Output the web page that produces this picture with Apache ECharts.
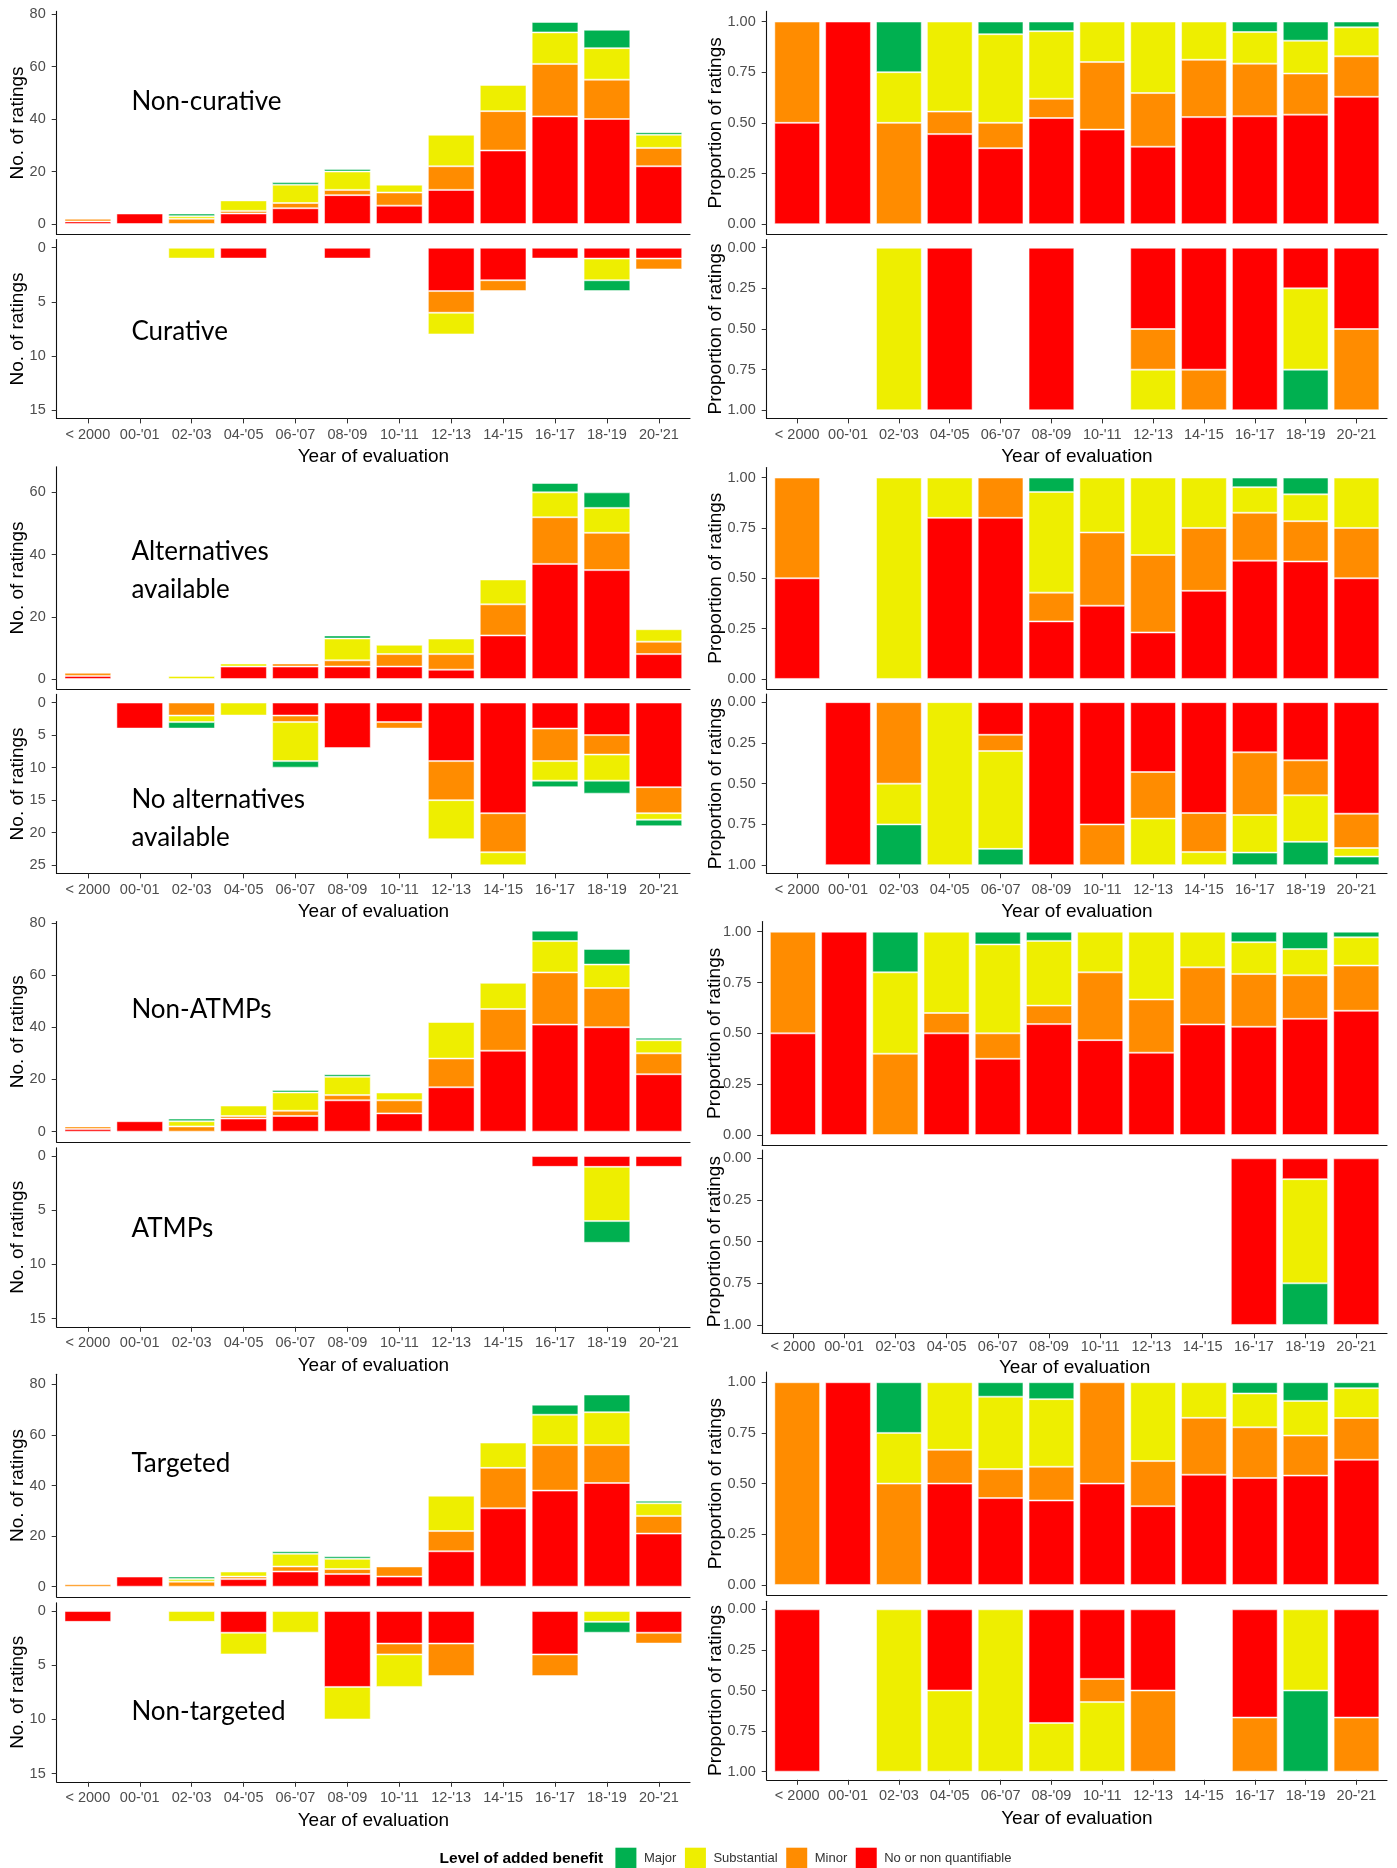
<!DOCTYPE html>
<html><head><meta charset="utf-8">
<script src="https://cdn.jsdelivr.net/npm/echarts@6/dist/echarts.min.js"></script>
<style>html,body{margin:0;padding:0;background:#fff}#c{width:1397px;height:1868px}</style>
</head><body><div id="c"></div>
<script>
// ---------------- DATA (counts of ratings) ----------------
const categories = ["< 2000","00-'01","02-'03","04-'05","06-'07","08-'09","10-'11","12-'13","14-'15","16-'17","18-'19","20-'21"];
const levels = ["No or non quantifiable","Minor","Substantial","Major"]; // stacking order, bottom to top
const legendOrder = ["Major","Substantial","Minor","No or non quantifiable"];

const nonCurativeNone   = [1,4,0,4,6,11,7,13,28,41,40,22];
const nonCurativeMinor  = [1,0,2,1,2,2,5,9,15,20,15,7];
const nonCurativeSubst  = [0,0,1,4,7,7,3,12,10,12,12,5];
const nonCurativeMajor  = [0,0,1,0,1,1,0,0,0,4,7,1];

const curativeNone      = [0,0,0,1,0,1,0,4,3,1,1,1];
const curativeMinor     = [0,0,0,0,0,0,0,2,1,0,0,1];
const curativeSubst     = [0,0,1,0,0,0,0,2,0,0,2,0];
const curativeMajor     = [0,0,0,0,0,0,0,0,0,0,1,0];

const altNone           = [1,0,0,4,4,4,4,3,14,37,35,8];
const altMinor          = [1,0,0,0,1,2,4,5,10,15,12,4];
const altSubst          = [0,0,1,1,0,7,3,5,8,8,8,4];
const altMajor          = [0,0,0,0,0,1,0,0,0,3,5,0];

const noAltNone         = [0,4,0,0,2,7,3,9,17,4,5,13];
const noAltMinor        = [0,0,2,0,1,0,1,6,6,5,3,4];
const noAltSubst        = [0,0,1,2,6,0,0,6,2,3,4,1];
const noAltMajor        = [0,0,1,0,1,0,0,0,0,1,2,1];

const nonAtmpNone       = [1,4,0,5,6,12,7,17,31,41,40,22];
const nonAtmpMinor      = [1,0,2,1,2,2,5,11,16,20,15,8];
const nonAtmpSubst      = [0,0,2,4,7,7,3,14,10,12,9,5];
const nonAtmpMajor      = [0,0,1,0,1,1,0,0,0,4,6,1];

const atmpNone          = [0,0,0,0,0,0,0,0,0,1,1,1];
const atmpMinor         = [0,0,0,0,0,0,0,0,0,0,0,0];
const atmpSubst         = [0,0,0,0,0,0,0,0,0,0,5,0];
const atmpMajor         = [0,0,0,0,0,0,0,0,0,0,2,0];

const targetedNone      = [0,4,0,3,6,5,4,14,31,38,41,21];
const targetedMinor     = [1,0,2,1,2,2,4,8,16,18,15,7];
const targetedSubst     = [0,0,1,2,5,4,0,14,10,12,13,5];
const targetedMajor     = [0,0,1,0,1,1,0,0,0,4,7,1];

const nonTargetedNone   = [1,0,0,2,0,7,3,3,0,4,0,2];
const nonTargetedMinor  = [0,0,0,0,0,0,1,3,0,2,0,1];
const nonTargetedSubst  = [0,0,1,2,2,3,3,0,0,0,1,0];
const nonTargetedMajor  = [0,0,0,0,0,0,0,0,0,0,1,0];

const countTicks15 = [0,5,10,15];
const countTicks25 = [0,5,10,15,20,25];
const countTicks60 = [0,20,40,60];
const countTicks80 = [0,20,40,60,80];
const propTicks    = [0,0.25,0.5,0.75,1];

// ---------------- STYLE / LAYOUT ----------------
const COLORS = ['#FF0000','#FF8C00','#EEEE00','#00B050'];
const FONT = 'Liberation Sans';

const groups = [
  { top:{label:'Non-curative', d:[nonCurativeNone,nonCurativeMinor,nonCurativeSubst,nonCurativeMajor]},
    bot:{label:'Curative', d:[curativeNone,curativeMinor,curativeSubst,curativeMajor]},
    L:{x0:56.7,x1:690}, R:{x0:766.7,x1:1387},
    topL:{t:11.4,b:234.5,min:-4,max:81,ticks:countTicks80}, topR:{t:11.4,b:234.3},
    botL:{t:239.6,b:418.4,min:-0.75,max:15.75,ticks:countTicks15}, botR:{t:239.6,b:418.4},
    xm:9, xg:29, xmR:9, xgR:29, rNameGap:41.5,
    texts:[{t:'Non-curative',y:101.7},{t:'Curative',y:331.7}] },
  { top:{label:'Alternatives available', d:[altNone,altMinor,altSubst,altMajor]},
    bot:{label:'No alternatives available', d:[noAltNone,noAltMinor,noAltSubst,noAltMajor]},
    L:{x0:56.7,x1:690}, R:{x0:766.7,x1:1387},
    topL:{t:466.7,b:689.1,min:-3.25,max:68.25,ticks:countTicks60}, topR:{t:467.5,b:689},
    botL:{t:694.4,b:873.4,min:-1.25,max:26.25,ticks:countTicks25}, botR:{t:694,b:873.3},
    xm:9, xg:29, xmR:9, xgR:29, rNameGap:41.5,
    texts:[{t:'Alternatives\navailable',y:551.7},{t:'No alternatives\navailable',y:800}] },
  { top:{label:'Non-ATMPs', d:[nonAtmpNone,nonAtmpMinor,nonAtmpSubst,nonAtmpMajor]},
    bot:{label:'ATMPs', d:[atmpNone,atmpMinor,atmpSubst,atmpMajor]},
    L:{x0:56.7,x1:690}, R:{x0:762.2,x1:1387},
    topL:{t:921.5,b:1142.1,min:-4,max:80.5,ticks:countTicks80}, topR:{t:921.5,b:1145.2},
    botL:{t:1147.9,b:1326.8,min:-0.75,max:15.75,ticks:countTicks15}, botR:{t:1150,b:1333.3},
    xm:9, xg:29, xmR:6.5, xgR:24.5, rNameGap:38,
    texts:[{t:'Non-ATMPs',y:1010},{t:'ATMPs',y:1228.3}] },
  { top:{label:'Targeted', d:[targetedNone,targetedMinor,targetedSubst,targetedMajor]},
    bot:{label:'Non-targeted', d:[nonTargetedNone,nonTargetedMinor,nonTargetedSubst,nonTargetedMajor]},
    L:{x0:56.7,x1:690}, R:{x0:766.7,x1:1387},
    topL:{t:1374.3,b:1596.8,min:-4,max:84,ticks:countTicks80}, topR:{t:1372.1,b:1595.1},
    botL:{t:1602.9,b:1781.8,min:-0.75,max:15.75,ticks:countTicks15}, botR:{t:1601.2,b:1779.8},
    xm:9, xg:29, xmR:9, xgR:29, rNameGap:41.5,
    texts:[{t:'Targeted',y:1463.3},{t:'Non-targeted',y:1711.7}] }
];

const option = {
  animation:false,
  backgroundColor:'#fff',
  textStyle:{fontFamily:FONT},
  grid:[], xAxis:[], yAxis:[], series:[], graphic:[],
  legend:{
    data:legendOrder, left:615.4, top:1847.7, padding:0, orient:'horizontal',
    itemWidth:21, itemHeight:21, itemGap:8.5, icon:'rect',
    itemStyle:{borderWidth:0},
    textStyle:{fontSize:13, color:'#333', fontFamily:FONT, padding:[0,0,0,2.5]},
    selectedMode:false
  }
};

const xTickVals = categories.map((c,i)=>i+1);

function addPanel(p){
  const unit = (p.x1 - p.x0) / 12.2;
  const gi = option.grid.length;
  const xi = option.xAxis.length, yi = option.yAxis.length;
  option.grid.push({left:p.x0, top:p.t, width:p.x1-p.x0, height:p.b-p.t, containLabel:false, outerBoundsMode:'none'});
  option.grid.push({left:p.x0+0.1*unit, top:p.t, width:12*unit, height:p.b-p.t, containLabel:false, outerBoundsMode:'none'});
  // frame axes (ggplot-like expanded range)
  option.xAxis.push({
    gridIndex:gi, type:'value', min:0.4, max:12.6,
    axisLine:{show:true, onZero:false, lineStyle:{color:'#111', width:1.1}},
    splitLine:{show:false},
    axisTick:{show:p.xLabels, customValues:xTickVals, length:5, lineStyle:{color:'#333', width:1}},
    axisLabel:{show:p.xLabels, customValues:xTickVals, margin:p.xm, fontSize:14.5, color:'#4d4d4d',
      formatter:v=>categories[Math.round(v)-1]},
    name:p.xLabels?'Year of evaluation':'', nameLocation:'middle', nameGap:p.xg, nameMoveOverlap:false,
    nameTextStyle:{fontSize:19, color:'#000', fontFamily:FONT}
  });
  option.xAxis.push({gridIndex:gi+1, type:'category', data:categories, show:false});
  option.yAxis.push({
    gridIndex:gi, type:'value', min:p.min, max:p.max, inverse:p.inverse,
    axisLine:{show:true, onZero:false, lineStyle:{color:'#111', width:1.1}},
    splitLine:{show:false},
    axisTick:{show:true, customValues:p.ticks, length:5, lineStyle:{color:'#333', width:1}},
    axisLabel:{show:true, customValues:p.ticks, margin:11, fontSize:14.5, color:'#4d4d4d',
      formatter:v=>p.prop ? v.toFixed(2) : String(v)},
    name:p.prop?'Proportion of ratings':'No. of ratings', nameLocation:'middle', nameGap:p.yg, nameMoveOverlap:false,
    nameTextStyle:{fontSize:19, color:'#000', fontFamily:FONT}
  });
  option.yAxis.push({gridIndex:gi+1, type:'value', min:p.min, max:p.max, inverse:p.inverse, show:false});
  const totals = categories.map((c,i)=>p.d.reduce((s,arr)=>s+arr[i],0));
  p.d.forEach((arr,k)=>{
    option.series.push({
      type:'bar', name:levels[k], xAxisIndex:xi+1, yAxisIndex:yi+1, stack:'s'+gi,
      barWidth:'90%', silent:true,
      itemStyle:{color:COLORS[k], borderColor:'rgba(255,255,255,0.5)', borderWidth:1},
      data:arr.map((v,i)=> v>0 ? (p.prop ? v/totals[i] : v) : '-')
    });
  });
}

groups.forEach(g=>{
  addPanel({x0:g.L.x0,x1:g.L.x1,t:g.topL.t,b:g.topL.b,min:g.topL.min,max:g.topL.max,ticks:g.topL.ticks,
    inverse:false,prop:false,xLabels:false,d:g.top.d,xm:g.xm,xg:g.xg,yg:29.4});
  addPanel({x0:g.R.x0,x1:g.R.x1,t:g.topR.t,b:g.topR.b,min:-0.05,max:1.05,ticks:propTicks,
    inverse:false,prop:true,xLabels:false,d:g.top.d,xm:g.xmR,xg:g.xgR,yg:g.rNameGap});
  addPanel({x0:g.L.x0,x1:g.L.x1,t:g.botL.t,b:g.botL.b,min:g.botL.min,max:g.botL.max,ticks:g.botL.ticks,
    inverse:true,prop:false,xLabels:true,d:g.bot.d,xm:g.xm,xg:g.xg,yg:29.4});
  addPanel({x0:g.R.x0,x1:g.R.x1,t:g.botR.t,b:g.botR.b,min:-0.05,max:1.05,ticks:propTicks,
    inverse:true,prop:true,xLabels:true,d:g.bot.d,xm:g.xmR,xg:g.xgR,yg:g.rNameGap});
  g.texts.forEach(tx=>{
    option.graphic.push({type:'text', left:131.4, top:tx.y-19, silent:true, z:100,
      style:{text:tx.t, fontSize:26, fontFamily:'Lato', fill:'#000', lineHeight:38}});
  });
});

option.graphic.push({type:'text', left:439.6, top:1850.5, silent:true,
  style:{text:'Level of added benefit', fontSize:15.5, fontWeight:'bold', fontFamily:FONT, fill:'#000'}});

const chart = echarts.init(document.getElementById('c'), null, {renderer:'canvas', width:1397, height:1868});
chart.setOption(option);
</script>
</body></html>
